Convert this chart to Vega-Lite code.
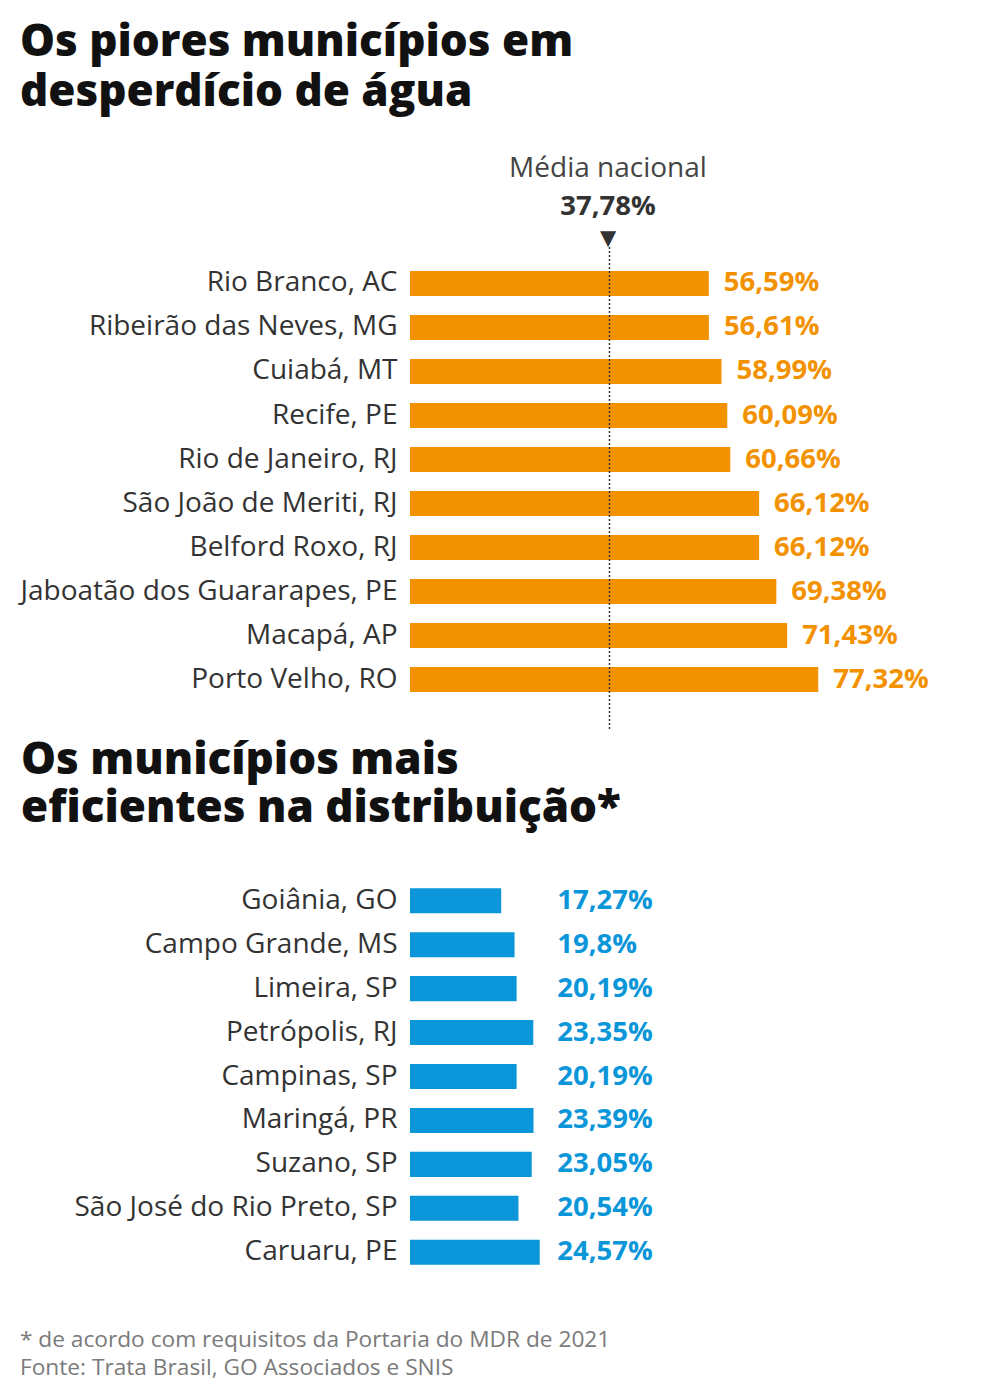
{
  "$schema": "https://vega.github.io/schema/vega-lite/v6.json",
  "background": "white",
  "padding": {"left": 19, "top": 20, "right": 0, "bottom": 10},
  "config": {
    "view": {"stroke": null},
    "font": "Open Sans",
    "concat": {"spacing": 8}
  },
  "title": {
    "text": ["* de acordo com requisitos da Portaria do MDR de 2021", "Fonte: Trata Brasil, GO Associados e SNIS"],
    "orient": "bottom",
    "anchor": "start",
    "frame": "bounds",
    "fontSize": 22.7,
    "fontWeight": "normal",
    "color": "#7a7a7a",
    "lineHeight": 28,
    "offset": 51
  },
  "vconcat": [
    {
      "title": {
        "text": ["Os piores municípios em", "desperdício de água"],
        "anchor": "start",
        "frame": "bounds",
        "fontSize": 44,
        "fontWeight": 800,
        "color": "#111111",
        "lineHeight": 50,
        "offset": 40
      },
      "spacing": 8,
      "vconcat": [
        {
          "width": 528,
          "height": 483,
          "title": {
            "text": "Média nacional",
            "subtitle": ["37,78%", "▼"],
            "anchor": "middle",
            "dx": -66,
            "fontSize": 28,
            "fontWeight": "normal",
            "color": "#444444",
            "subtitleFontSize": 27.5,
            "subtitleFontWeight": "bold",
            "subtitleColor": "#333333",
            "subtitleLineHeight": 32,
            "subtitlePadding": 10,
            "offset": -6
          },
          "layer": [
            {
              "data": {"values": [
                {"municipio": "Rio Branco, AC", "valor": 56.59, "rotulo": "56,59%"},
                {"municipio": "Ribeirão das Neves, MG", "valor": 56.61, "rotulo": "56,61%"},
                {"municipio": "Cuiabá, MT", "valor": 58.99, "rotulo": "58,99%"},
                {"municipio": "Recife, PE", "valor": 60.09, "rotulo": "60,09%"},
                {"municipio": "Rio de Janeiro, RJ", "valor": 60.66, "rotulo": "60,66%"},
                {"municipio": "São João de Meriti, RJ", "valor": 66.12, "rotulo": "66,12%"},
                {"municipio": "Belford Roxo, RJ", "valor": 66.12, "rotulo": "66,12%"},
                {"municipio": "Jaboatão dos Guararapes, PE", "valor": 69.38, "rotulo": "69,38%"},
                {"municipio": "Macapá, AP", "valor": 71.43, "rotulo": "71,43%"},
                {"municipio": "Porto Velho, RO", "valor": 77.32, "rotulo": "77,32%"}
              ]},
              "layer": [
                {
                  "mark": {"type": "bar", "color": "#F39200"},
                  "encoding": {
                    "y": {"field": "municipio", "type": "nominal", "sort": null,
                      "scale": {"paddingInner": 0.43, "paddingOuter": 0.703, "align": 0.387},
                      "axis": {"title": null, "domain": false, "ticks": false, "labelFontSize": 28, "labelColor": "#333333", "labelPadding": 13, "labelLimit": 0}},
                    "x": {"field": "valor", "type": "quantitative", "scale": {"domain": [0, 100]}, "axis": null}
                  }
                },
                {
                  "mark": {"type": "text", "align": "left", "baseline": "middle", "dx": 15, "fontSize": 27.5, "fontWeight": "bold", "color": "#F39200"},
                  "encoding": {
                    "y": {"field": "municipio", "type": "nominal", "sort": null},
                    "x": {"field": "valor", "type": "quantitative"},
                    "text": {"field": "rotulo"}
                  }
                }
              ]
            },
            {
              "data": {"values": [{"media": 37.78}]},
              "mark": {"type": "rule", "color": "#333333", "strokeDash": [2, 2], "strokeWidth": 1.5},
              "encoding": {"x": {"field": "media", "type": "quantitative"}}
            }
          ]
        },
        {
          "width": 528,
          "height": 403,
          "title": {
            "text": ["Os municípios mais", "eficientes na distribuição*"],
            "anchor": "start",
            "frame": "bounds",
            "dx": -53,
            "fontSize": 44,
            "fontWeight": 800,
            "color": "#111111",
            "lineHeight": 48,
            "offset": 44
          },
          "data": {"values": [
            {"municipio": "Goiânia, GO", "valor": 17.27, "rotulo": "17,27%"},
            {"municipio": "Campo Grande, MS", "valor": 19.8, "rotulo": "19,8%"},
            {"municipio": "Limeira, SP", "valor": 20.19, "rotulo": "20,19%"},
            {"municipio": "Petrópolis, RJ", "valor": 23.35, "rotulo": "23,35%"},
            {"municipio": "Campinas, SP", "valor": 20.19, "rotulo": "20,19%"},
            {"municipio": "Maringá, PR", "valor": 23.39, "rotulo": "23,39%"},
            {"municipio": "Suzano, SP", "valor": 23.05, "rotulo": "23,05%"},
            {"municipio": "São José do Rio Preto, SP", "valor": 20.54, "rotulo": "20,54%"},
            {"municipio": "Caruaru, PE", "valor": 24.57, "rotulo": "24,57%"}
          ]},
          "encoding": {
            "y": {"field": "municipio", "type": "nominal", "sort": null,
              "scale": {"paddingInner": 0.43, "paddingOuter": 0.3},
              "axis": {"title": null, "domain": false, "ticks": false, "labelFontSize": 28, "labelColor": "#333333", "labelPadding": 13, "labelLimit": 0}}
          },
          "layer": [
            {
              "mark": {"type": "bar", "color": "#0A96D8"},
              "encoding": {
                "x": {"field": "valor", "type": "quantitative", "scale": {"domain": [0, 100]}, "axis": null}
              }
            },
            {
              "mark": {"type": "text", "align": "left", "baseline": "middle", "fontSize": 27.5, "fontWeight": "bold", "color": "#0A96D8"},
              "encoding": {
                "x": {"datum": 27.9, "type": "quantitative"},
                "text": {"field": "rotulo"}
              }
            }
          ]
        }
      ]
    }
  ]
}
